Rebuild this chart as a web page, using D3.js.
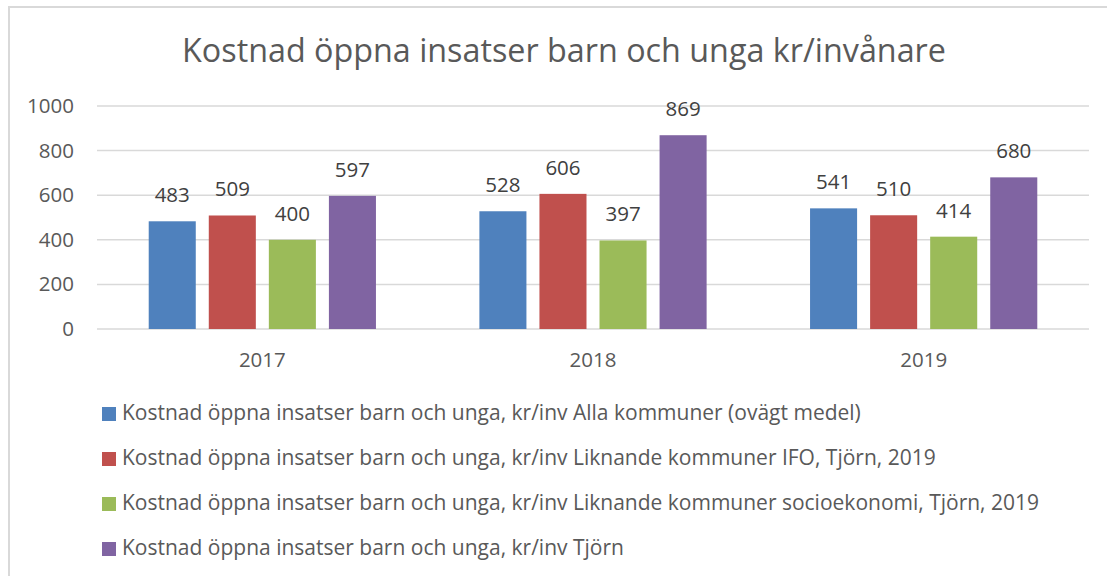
<!DOCTYPE html>
<html lang="sv">
  <head>
    <meta charset="UTF-8">
    <title>Kostnad öppna insatser barn och unga</title>
    <style>
      body {
	margin: 0;
	background: #fff;
      }
      text {
	font-family: "Open Sans", Lato, sans-serif;
      }
    </style>
    <script src="https://d3js.org/d3.v7.min.js"></script>
    <script>
      var years = ["2017", "2018", "2019"];
      var seriesNames = [
	"Kostnad öppna insatser barn och unga, kr/inv Alla kommuner (ovägt medel)",
	"Kostnad öppna insatser barn och unga, kr/inv Liknande kommuner IFO, Tjörn, 2019",
	"Kostnad öppna insatser barn och unga, kr/inv Liknande kommuner socioekonomi, Tjörn, 2019",
	"Kostnad öppna insatser barn och unga, kr/inv Tjörn"
      ];
      var allaKommuner = [483, 528, 541];
      var liknandeIFO = [509, 606, 510];
      var liknandeSocio = [400, 397, 414];
      var tjorn = [597, 869, 680];
      var yTicks = [0, 200, 400, 600, 800, 1000];
      var colors = ["#4F81BD", "#C0504D", "#9BBB59", "#8064A2"];

      window.onload = function () {
	var width = 1107;
	var height = 576;
	var plot = { left: 97, right: 1089, top: 106, bottom: 329 };
	var values = [allaKommuner, liknandeIFO, liknandeSocio, tjorn];
	var font = "'Open Sans', Lato, sans-serif";

	var svg = d3.select("body").append("svg")
		    .attr("width", width)
		    .attr("height", height);

	// chart frame (only top and left edges are visible in the crop)
	svg.append("path")
	  .attr("d", "M9,580 L9,7 L1110,7")
	  .attr("fill", "none")
	  .attr("stroke", "#D9D9D9")
	  .attr("stroke-width", 2);

	svg.append("text")
	  .attr("x", 564)
	  .attr("y", 62)
	  .attr("text-anchor", "middle")
	  .attr("fill", "#595959")
	  .style("font-size", "32.3px")
	  .text("Kostnad öppna insatser barn och unga kr/invånare");

	var y = d3.scaleLinear().domain([0, 1000]).range([plot.bottom, plot.top]);
	var x0 = d3.scaleBand().domain(years)
	  .range([plot.left, plot.right])
	  .paddingInner(0.3128)
	  .paddingOuter(0.1564);
	var x1 = d3.scaleBand().domain(d3.range(seriesNames.length))
	  .range([0, x0.bandwidth()])
	  .paddingInner(13 / 60);

	// gridlines
	svg.append("g").selectAll("line").data(yTicks).enter()
	  .append("line")
	  .attr("x1", plot.left)
	  .attr("x2", plot.right)
	  .attr("y1", function (d) { return y(d); })
	  .attr("y2", function (d) { return y(d); })
	  .attr("stroke", "#D9D9D9")
	  .attr("stroke-width", 1.5);

	var yAxis = d3.axisLeft(y).tickValues(yTicks).tickFormat(d3.format("d"))
	  .tickSize(0).tickPadding(0);
	var gy = svg.append("g")
	  .attr("transform", "translate(74,0)")
	  .call(yAxis);
	gy.select(".domain").remove();
	gy.selectAll("text")
	  .attr("fill", "#595959")
	  .style("font-size", "20.5px")
	  .style("font-family", font);

	var xAxis = d3.axisBottom(x0).tickSize(0).tickPadding(0);
	var gx = svg.append("g")
	  .attr("transform", "translate(0,352)")
	  .call(xAxis);
	gx.select(".domain").remove();
	gx.selectAll("text")
	  .attr("fill", "#595959")
	  .attr("dy", "0.72em")
	  .style("font-size", "20.5px")
	  .style("font-family", font);

	var rows = [];
	years.forEach(function (yr, i) {
	  values.forEach(function (arr, s) {
	    rows.push({ year: yr, series: s, value: arr[i] });
	  });
	});

	svg.append("g").selectAll("rect").data(rows).enter()
	  .append("rect")
	  .attr("x", function (d) { return x0(d.year) + x1(d.series); })
	  .attr("y", function (d) { return y(d.value); })
	  .attr("width", x1.bandwidth())
	  .attr("height", function (d) { return y(0) - y(d.value); })
	  .attr("fill", function (d) { return colors[d.series]; });

	svg.append("g").selectAll("text").data(rows).enter()
	  .append("text")
	  .attr("x", function (d) { return x0(d.year) + x1(d.series) + x1.bandwidth() / 2; })
	  .attr("y", function (d) { return y(d.value) - 19; })
	  .attr("text-anchor", "middle")
	  .attr("fill", "#404040")
	  .style("font-size", "20.5px")
	  .text(function (d) { return d.value; });

	// legend
	var legend = svg.append("g").selectAll("g").data(seriesNames).enter()
	  .append("g")
	  .attr("transform", function (d, i) { return "translate(102," + (420 + i * 45) + ")"; });
	legend.append("rect")
	  .attr("x", 0)
	  .attr("y", -13)
	  .attr("width", 14)
	  .attr("height", 14)
	  .attr("fill", function (d, i) { return colors[i]; });
	legend.append("text")
	  .attr("x", 20)
	  .attr("y", 0)
	  .attr("fill", "#595959")
	  .style("font-size", "21px")
	  .text(function (d) { return d; });
      };
    </script>
  </head>
  <body>
  </body>
</html>
